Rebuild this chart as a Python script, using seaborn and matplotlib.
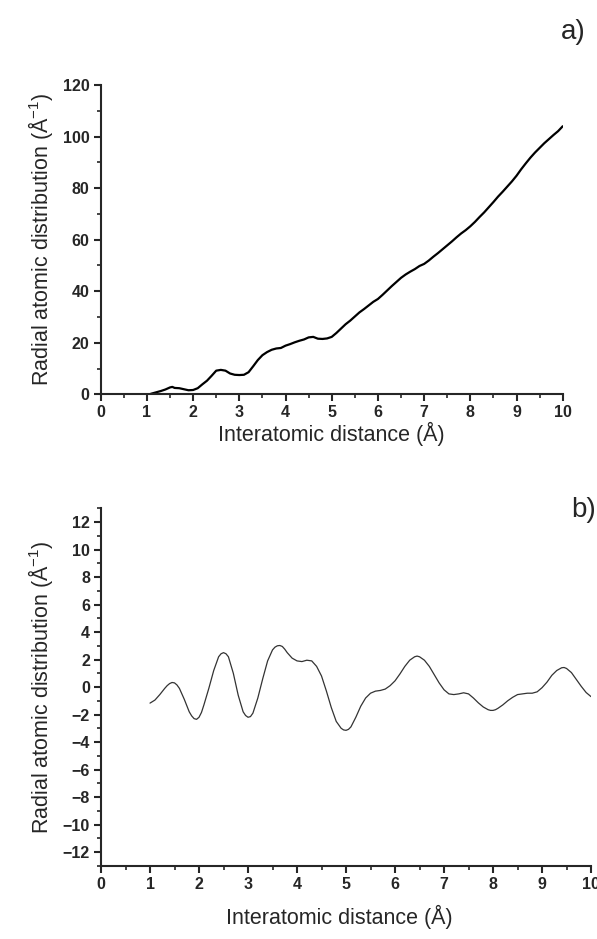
import matplotlib
matplotlib.use("Agg")
import matplotlib.pyplot as plt
import seaborn as sns
import pandas as pd
from matplotlib.ticker import MultipleLocator

# ---- data: panel a) radial atomic distribution ----
xa = [1.05, 1.1, 1.2, 1.3, 1.4, 1.5, 1.55, 1.6, 1.7, 1.8, 1.9, 2.0, 2.1, 2.2, 2.3, 2.4, 2.5, 2.6, 2.7, 2.8,
      2.9, 3.0, 3.1, 3.2, 3.3, 3.4, 3.5, 3.6, 3.7, 3.8, 3.9, 4.0, 4.1, 4.2, 4.3, 4.4, 4.5, 4.6, 4.7, 4.8,
      4.9, 5.0, 5.1, 5.2, 5.3, 5.4, 5.5, 5.6, 5.7, 5.8, 5.9, 6.0, 6.1, 6.2, 6.3, 6.4, 6.5, 6.6, 6.7, 6.8,
      6.9, 7.0, 7.1, 7.2, 7.3, 7.4, 7.5, 7.6, 7.7, 7.8, 7.9, 8.0, 8.1, 8.2, 8.3, 8.4, 8.5, 8.6, 8.7, 8.8,
      8.9, 9.0, 9.1, 9.2, 9.3, 9.4, 9.5, 9.6, 9.7, 9.8, 9.9, 10.0]
ya = [0.0, 0.3, 0.8, 1.3, 1.9, 2.7, 2.9, 2.5, 2.4, 2.0, 1.6, 1.7, 2.4, 3.9, 5.3, 7.2, 9.2, 9.5, 9.2, 8.1,
      7.6, 7.5, 7.6, 8.6, 10.9, 13.3, 15.2, 16.4, 17.3, 17.8, 18.0, 18.9, 19.5, 20.2, 20.8, 21.3, 22.1, 22.3, 21.6, 21.5,
      21.7, 22.3, 23.8, 25.5, 27.2, 28.6, 30.2, 31.8, 33.1, 34.5, 35.9, 37.0, 38.6, 40.3, 42.0, 43.6, 45.2, 46.5, 47.6, 48.6,
      49.8, 50.6, 51.9, 53.4, 54.8, 56.3, 57.8, 59.3, 60.9, 62.4, 63.7, 65.2, 66.9, 68.8, 70.6, 72.6, 74.6, 76.7, 78.6, 80.6,
      82.6, 84.8, 87.3, 89.6, 91.8, 93.8, 95.6, 97.4, 99.0, 100.6, 102.1, 104.0]

# ---- data: panel b) ----
xb = [1.0, 1.1, 1.2, 1.3, 1.35, 1.4, 1.45, 1.5, 1.55, 1.6, 1.7, 1.8, 1.85, 1.9, 1.95, 2.0, 2.05, 2.1, 2.2, 2.3,
      2.4, 2.45, 2.5, 2.55, 2.6, 2.7, 2.8, 2.9, 2.95, 3.0, 3.05, 3.1, 3.2, 3.3, 3.4, 3.5, 3.55, 3.6, 3.65, 3.7,
      3.75, 3.8, 3.9, 4.0, 4.1, 4.2, 4.3, 4.4, 4.5, 4.6, 4.7, 4.8, 4.9, 4.95, 5.0, 5.05, 5.1, 5.2, 5.3, 5.4,
      5.5, 5.6, 5.7, 5.8, 5.9, 6.0, 6.1, 6.2, 6.3, 6.4, 6.45, 6.5, 6.6, 6.7, 6.8, 6.9, 7.0, 7.1, 7.2, 7.3,
      7.4, 7.5, 7.6, 7.7, 7.8, 7.9, 7.95, 8.0, 8.05, 8.1, 8.2, 8.3, 8.4, 8.5, 8.6, 8.7, 8.8, 8.9, 9.0, 9.1,
      9.2, 9.3, 9.4, 9.45, 9.5, 9.6, 9.7, 9.8, 9.9, 10.0]
yb = [-1.17, -0.95, -0.55, -0.1, 0.1, 0.25, 0.33, 0.3, 0.15, -0.1, -0.9, -1.8, -2.1, -2.3, -2.35, -2.2, -1.85, -1.3, -0.1, 1.2,
      2.2, 2.42, 2.5, 2.42, 2.2, 1.0, -0.6, -1.8, -2.07, -2.2, -2.15, -1.9, -0.8, 0.6, 1.9, 2.7, 2.9, 3.0, 3.02, 2.95,
      2.75, 2.5, 2.1, 1.9, 1.85, 1.95, 1.9, 1.5, 0.8, -0.3, -1.5, -2.5, -3.0, -3.12, -3.15, -3.08, -2.9, -2.2, -1.4, -0.8,
      -0.45, -0.3, -0.25, -0.15, 0.1, 0.45, 0.95, 1.5, 1.95, 2.2, 2.25, 2.2, 1.95, 1.5, 0.9, 0.3, -0.2, -0.5, -0.55, -0.5,
      -0.42, -0.5, -0.8, -1.15, -1.45, -1.65, -1.7, -1.7, -1.65, -1.55, -1.3, -1.0, -0.75, -0.55, -0.5, -0.45, -0.45, -0.35, -0.05, 0.35,
      0.85, 1.2, 1.4, 1.42, 1.35, 1.05, 0.55, 0.05, -0.4, -0.7]

xlabel = "Interatomic distance (Å)"
ylabel = "Radial atomic distribution (Å$^{-1}$)"
panel_a = "a)"
panel_b = "b)"

sns.set_style("ticks")
plt.rcParams["font.family"] = ["Liberation Sans", "DejaVu Sans"]
plt.rcParams["mathtext.fontset"] = "custom"
plt.rcParams["mathtext.rm"] = "Liberation Sans"
plt.rcParams["mathtext.it"] = "Liberation Sans"

fig = plt.figure(figsize=(5.97, 9.39), dpi=100)
axa = fig.add_axes([0.1687, 0.580, 0.7739, 0.3295])
axb = fig.add_axes([0.1692, 0.078, 0.8208, 0.3807])

dfa = pd.DataFrame({"x": xa, "y": ya})
dfb = pd.DataFrame({"x": xb, "y": yb})
sns.lineplot(data=dfa, x="x", y="y", ax=axa, color="black", linewidth=1.6, sort=False)
sns.lineplot(data=dfb, x="x", y="y", ax=axb, color="#333333", linewidth=0.9, sort=False)

axa.set_xlim(0, 10)
axa.set_ylim(0, 120)
axa.xaxis.set_major_locator(MultipleLocator(1))
axa.xaxis.set_minor_locator(MultipleLocator(0.5))
axa.yaxis.set_major_locator(MultipleLocator(20))
axa.yaxis.set_minor_locator(MultipleLocator(10))

axb.set_xlim(0, 10)
axb.set_ylim(-13, 13)
axb.xaxis.set_major_locator(MultipleLocator(1))
axb.xaxis.set_minor_locator(MultipleLocator(0.5))
axb.set_yticks(list(range(-12, 13, 2)))
axb.yaxis.set_minor_locator(MultipleLocator(1))

for ax in (axa, axb):
    sns.despine(ax=ax)
    for s in ("left", "bottom"):
        ax.spines[s].set_linewidth(1.5)
    ax.tick_params(which="major", direction="out", length=5, width=1.5, labelsize=11.5, pad=3)
    ax.tick_params(which="minor", direction="out", length=3, width=1.2)
    for lab in ax.get_xticklabels() + ax.get_yticklabels():
        lab.set_fontweight("bold")
    ax.set_xlabel(xlabel, fontsize=15.5)
    ax.set_ylabel(ylabel, fontsize=15.5)

axa.yaxis.set_label_coords(-0.10, 0.5)
axb.yaxis.set_label_coords(-0.094, 0.5)
axa.xaxis.set_label_coords(0.5, -0.088)
axb.xaxis.set_label_coords(0.487, -0.11)

fig.text(0.96, 0.966, panel_a, fontsize=20, ha="center", va="center")
fig.text(0.978, 0.457, panel_b, fontsize=20, ha="center", va="center")

fig.savefig("out.png", dpi=100)
